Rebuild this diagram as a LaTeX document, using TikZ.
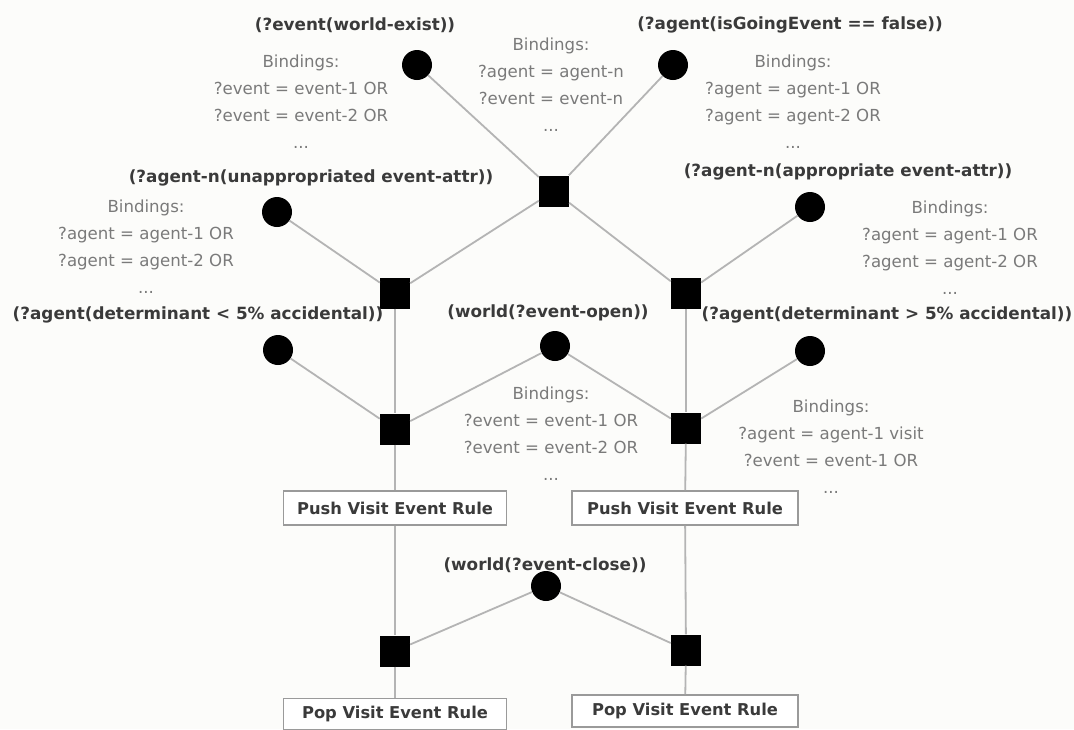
\documentclass[tikz,border=0pt]{standalone}
\usepackage{fontspec}
\setmainfont{DejaVu Sans}
\definecolor{paper}{HTML}{FCFCFA}
\definecolor{wire}{HTML}{B4B4B4}
\definecolor{headink}{HTML}{3A3A3A}
\definecolor{bindink}{HTML}{7A7A7A}
\definecolor{framegray}{HTML}{9A9A9A}
\tikzset{
  cond/.style={circle, fill=black, inner sep=0pt, minimum size=30pt},
  joinbox/.style={rectangle, fill=black, inner sep=0pt, minimum width=30pt, minimum height=31pt},
  head/.style={inner sep=0pt, text=headink, font=\fontsize{16.8}{19}\selectfont\bfseries},
  bind/.style={inner sep=0pt, anchor=north, align=center, text=bindink, font=\fontsize{16.6}{27}\selectfont},
  rulebox/.style={rectangle, draw=framegray, line width=1.6pt, fill=white, inner sep=0pt,
    minimum width=223pt, minimum height=34pt, text=headink, font=\fontsize{16.3}{19}\selectfont\bfseries},
  link/.style={draw=wire, line width=1.8pt},
}
\begin{document}
\begin{tikzpicture}[x=1pt, y=-1pt]
  \fill[paper] (0,0) rectangle (1074,729);
  \useasboundingbox (0,0) rectangle (1074,729);

  % condition circles
  \node[cond] (c1) at (417,65) {};
  \node[cond] (c2) at (673,65) {};
  \node[cond] (c3) at (277,212) {};
  \node[cond] (c4) at (810,207) {};
  \node[cond] (c5) at (278,350) {};
  \node[cond] (c6) at (555,346) {};
  \node[cond] (c7) at (810,351) {};
  \node[cond] (c8) at (546,586) {};

  % join squares
  \node[joinbox] (s1) at (554,191) {};
  \node[joinbox] (s2) at (395,293) {};
  \node[joinbox] (s3) at (686,293) {};
  \node[joinbox] (s4) at (395,429) {};
  \node[joinbox] (s5) at (686,428) {};
  \node[joinbox] (s6) at (395,651) {};
  \node[joinbox] (s7) at (686,650) {};

  % rule boxes
  \node[rulebox] (push1) at (395,508) {Push Visit Event Rule};
  \node[rulebox, minimum width=226pt] (push2) at (685,508) {Push Visit Event Rule};
  \node[rulebox, minimum height=31pt] (pop1) at (395,714) {Pop Visit Event Rule};
  \node[rulebox, minimum width=226pt, minimum height=32pt] (pop2) at (685,711) {Pop Visit Event Rule};

  % connectors
  \draw[link] (c1) -- (s1);
  \draw[link] (c2) -- (s1);
  \draw[link] (s1) -- (s2);
  \draw[link] (s1) -- (s3);
  \draw[link] (c3) -- (s2);
  \draw[link] (c4) -- (s3);
  \draw[link] (s2) -- (s4);
  \draw[link] (s3) -- (s5);
  \draw[link] (c5) -- (s4);
  \draw[link] (c6) -- (s4);
  \draw[link] (c6) -- (s5);
  \draw[link] (c7) -- (s5);
  \draw[link] (s4) -- (push1);
  \draw[link] (s5) -- (push2);
  \draw[link] (push1) -- (s6);
  \draw[link] (push2) -- (s7);
  \draw[link] (c8) -- (s6);
  \draw[link] (c8) -- (s7);
  \draw[link] (s6) -- (pop1);
  \draw[link] (s7) -- (pop2);

  % condition labels
  \node[head] (h1) at (355,25) {(?event(world-exist))};
  \node[head] (h2) at (790,25) {(?agent(isGoingEvent == false))};
  \node[head] (h3) at (311,178) {(?agent-n(unappropriated event-attr))};
  \node[head] (h4) at (848,172) {(?agent-n(appropriate event-attr))};
  \node[head] (h5) at (198,315) {(?agent(determinant < 5\% accidental))};
  \node[head] (h6) at (548,313) {(world(?event-open))};
  \node[head] (h7) at (887,315) {(?agent(determinant > 5\% accidental))};
  \node[head] (h8) at (545,565) {(world(?event-close))};

  % variable bindings
  \node[bind] (b1) at (301,55) {Bindings:\\?event = event-1 OR\\?event = event-2 OR\\...};
  \node[bind] (b2) at (551,38) {Bindings:\\?agent = agent-n\\?event = event-n\\...};
  \node[bind] (b3) at (793,55) {Bindings:\\?agent = agent-1 OR\\?agent = agent-2 OR\\...};
  \node[bind] (b4) at (146,200) {Bindings:\\?agent = agent-1 OR\\?agent = agent-2 OR\\...};
  \node[bind] (b5) at (950,201) {Bindings:\\?agent = agent-1 OR\\?agent = agent-2 OR\\...};
  \node[bind] (b6) at (551,387) {Bindings:\\?event = event-1 OR\\?event = event-2 OR\\...};
  \node[bind] (b7) at (831,400) {Bindings:\\?agent = agent-1 visit\\?event = event-1 OR\\...};
\end{tikzpicture}
\end{document}
